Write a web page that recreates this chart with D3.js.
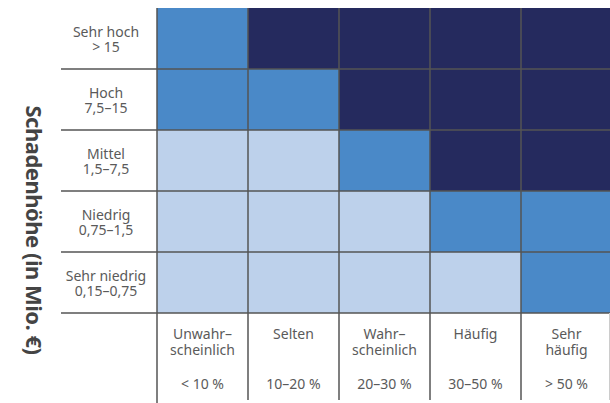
<!DOCTYPE html>
<html>
<head>
  <meta charset="utf-8">
  <title>Risikomatrix</title>
  <style>
    body { margin: 0; background: #fff; }
    text { font-family: "Noto Sans", "Open Sans", sans-serif; fill: #5a5a5a; }
  </style>
</head>
<body>
  <svg id="chart"></svg>

  <script src="https://d3js.org/d3.v7.min.js"></script>
  <script>
    // Daten
    const rows = ["Sehr hoch", "Hoch", "Mittel", "Niedrig", "Sehr niedrig"];
    const rowRanges = ["> 15", "7,5–15", "1,5–7,5", "0,75–1,5", "0,15–0,75"];
    const cols = ["Unwahrscheinlich", "Selten", "Wahrscheinlich", "Häufig", "Sehr häufig"];
    const colLabels = [["Unwahr–", "scheinlich"], ["Selten"], ["Wahr–", "scheinlich"], ["Häufig"], ["Sehr", "häufig"]];
    const colRanges = ["< 10 %", "10–20 %", "20–30 %", "30–50 %", "> 50 %"];
    // Risikostufe je Zelle: 1 = gering, 2 = mittel, 3 = hoch
    const levels = [
      [2, 3, 3, 3, 3],
      [2, 2, 3, 3, 3],
      [1, 1, 2, 3, 3],
      [1, 1, 1, 2, 2],
      [1, 1, 1, 1, 2]
    ];
    const yTitle = "Schadenhöhe (in Mio. €)";

    const width = 610, height = 403;
    const svg = d3.select("#chart").attr("width", width).attr("height", height);

    const x = d3.scaleBand().domain(cols).range([157, 612]);
    const y = d3.scaleBand().domain(rows).range([8, 313]);
    const color = d3.scaleOrdinal().domain([1, 2, 3]).range(["#bdd1eb", "#4a89c8", "#252a5e"]);

    const cells = [];
    levels.forEach((r, i) => r.forEach((v, j) => cells.push({ row: rows[i], col: cols[j], v })));

    svg.selectAll("rect.cell")
      .data(cells)
      .enter().append("rect")
      .attr("class", "cell")
      .attr("x", d => x(d.col))
      .attr("y", d => y(d.row))
      .attr("width", x.bandwidth())
      .attr("height", y.bandwidth())
      .attr("fill", d => color(d.v));

    const grid = svg.append("g").attr("stroke", "#555").attr("stroke-width", 1.5);

    // horizontale Linien
    rows.forEach(r => {
      const yy = y(r) + y.bandwidth();
      grid.append("line").attr("x1", 61).attr("x2", width).attr("y1", yy).attr("y2", yy);
    });
    // vertikale Linien
    grid.append("line").attr("x1", 157).attr("x2", 157).attr("y1", 8).attr("y2", 403);
    cols.slice(1).forEach(c => {
      grid.append("line").attr("x1", x(c)).attr("x2", x(c)).attr("y1", 8).attr("y2", 400);
    });
    svg.append("line").attr("x1", 609.5).attr("x2", 609.5).attr("y1", 313).attr("y2", 400)
      .attr("stroke", "#ccc").attr("stroke-width", 1);

    // Zeilenbeschriftung
    const rowG = svg.selectAll("g.rowlab")
      .data(rows)
      .enter().append("g")
      .attr("class", "rowlab")
      .attr("transform", d => `translate(106,${y(d) + y.bandwidth() / 2})`);
    rowG.append("text")
      .attr("text-anchor", "middle")
      .attr("y", -2)
      .style("font-size", "14px")
      .text(d => d);
    rowG.append("text")
      .attr("text-anchor", "middle")
      .attr("y", 13.5)
      .style("font-size", "14px")
      .text((d, i) => rowRanges[i]);

    // Spaltenbeschriftung
    const colG = svg.selectAll("g.collab")
      .data(cols)
      .enter().append("g")
      .attr("class", "collab")
      .attr("transform", d => `translate(${x(d) + x.bandwidth() / 2},0)`);
    colG.each(function (d, i) {
      const g = d3.select(this);
      colLabels[i].forEach((t, k) => {
        g.append("text")
          .attr("text-anchor", "middle")
          .attr("y", 339 + k * 16)
          .style("font-size", "14px")
          .text(t);
      });
      g.append("text")
        .attr("text-anchor", "middle")
        .attr("y", 389)
        .style("font-size", "14px")
        .text(colRanges[i]);
    });

    // Achsentitel
    svg.append("text")
      .attr("transform", "translate(26,230) rotate(90)")
      .attr("text-anchor", "middle")
      .style("font-size", "22px")
      .style("letter-spacing", "-0.5px")
      .style("font-weight", "bold")
      .style("fill", "#444")
      .text(yTitle);
  </script>
</body>
</html>
